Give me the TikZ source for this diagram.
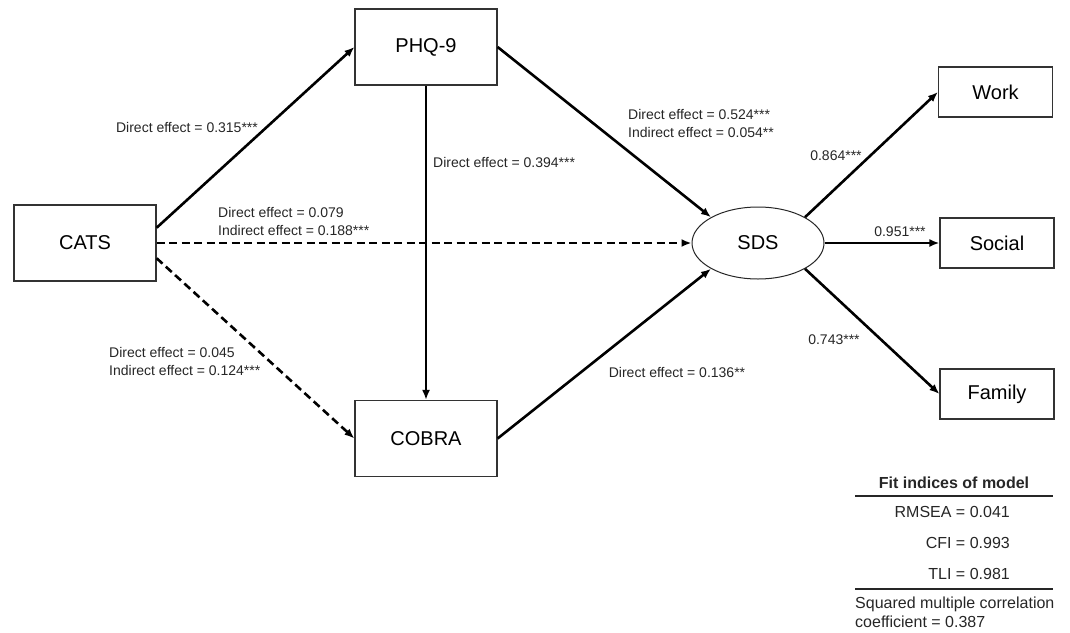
\documentclass[tikz,border=0pt]{standalone}
\usepackage{fontspec}
\setmainfont{Liberation Sans}
\usetikzlibrary{arrows.meta,shapes.geometric}

\begin{document}
\begin{tikzpicture}[x=1pt,y=-1pt,
    box/.style={draw=black!80, line width=1.2pt, minimum width=142pt, minimum height=76pt, font=\fontsize{20}{24}\selectfont},
    smallbox/.style={box, minimum width=114pt, minimum height=50pt},
    latent/.style={ellipse, draw=black!85, line width=1pt, minimum width=132pt, minimum height=72pt, font=\fontsize{20}{24}\selectfont},
    effect/.style={line width=2.6pt, -{Latex[length=10pt,width=8pt]}},
    weak/.style={effect, dash pattern=on 8pt off 4.5pt},
    coef/.style={inner sep=0pt, align=left, font=\fontsize{14}{18}\selectfont, text=black!85},
    fit/.style={inner sep=0pt, font=\fontsize{16}{19}\selectfont, text=black!85}]

    % Fix the page
    \useasboundingbox (0,0) rectangle (1070,632);

    % Draw the observed variables
    \node[box] (CATS) at (85,243) {CATS};
    \node[box] (PHQ) at (426,47) {PHQ-9};
    \node[box] (COBRA) at (426,438.5) {COBRA};

    % Draw the latent outcome and its indicators
    \node[latent] (SDS) at (758,243) {SDS};
    \node[smallbox] (Work) at (995.5,92) {Work};
    \node[smallbox] (Social) at (997,243) {Social};
    \node[smallbox] (Family) at (997,394) {Family};

    % Draw the paths
    \draw[effect] (CATS.12) -- (PHQ.west);
    \draw[weak] (CATS.east) -- (SDS.west);
    \draw[weak] (CATS.-12) -- (COBRA.west);
    \draw[effect] (PHQ.south) -- (COBRA.north);
    \draw[effect] (PHQ.east) -- (SDS.north west);
    \draw[effect] (COBRA.east) -- (SDS.south west);

    % Draw the loadings
    \draw[effect] (SDS.north east) -- (Work.west);
    \draw[effect] (SDS.east) -- (Social.west);
    \draw[effect] (SDS.south east) -- (Family.west);

    % Put the coefficients on the paths
    \node[coef] (c1) at (187,127) {Direct effect = 0.315***};
    \node[coef, anchor=west] (c2) at (433,162) {Direct effect = 0.394***};
    \node[coef, anchor=west] (c3) at (218,221.5) {Direct effect = 0.079\\Indirect effect = 0.188***};
    \node[coef, anchor=west] (c4) at (109,361) {Direct effect = 0.045\\Indirect effect = 0.124***};
    \node[coef, anchor=west] (c5) at (628,123) {Direct effect = 0.524***\\Indirect effect = 0.054**};
    \node[coef] (c6) at (677,372) {Direct effect = 0.136**};
    \node[coef] (w1) at (836,156) {0.864***};
    \node[coef] (w2) at (900,232) {0.951***};
    \node[coef] (w3) at (834,340) {0.743***};

    % Finally the fit indices
    \node[fit, font=\fontsize{16}{19}\selectfont\bfseries] (title) at (954,483) {Fit indices of model};
    \coordinate (r1a) at (855,496);
    \coordinate (r1b) at (1053,496);
    \coordinate (r2a) at (855,589);
    \coordinate (r2b) at (1053,589);
    \draw[line width=1.2pt, black!85] (r1a) -- (r1b);
    \draw[line width=1.2pt, black!85] (r2a) -- (r2b);
    \node[fit, anchor=east] (rmsea) at (1010,512) {RMSEA = 0.041};
    \node[fit, anchor=east] (cfi) at (1010,543) {CFI = 0.993};
    \node[fit, anchor=east] (tli) at (1010,574) {TLI = 0.981};
    \node[fit, anchor=west, align=left] (smc) at (855,612.5) {Squared multiple correlation\\coefficient = 0.387};

\end{tikzpicture}
\end{document}
